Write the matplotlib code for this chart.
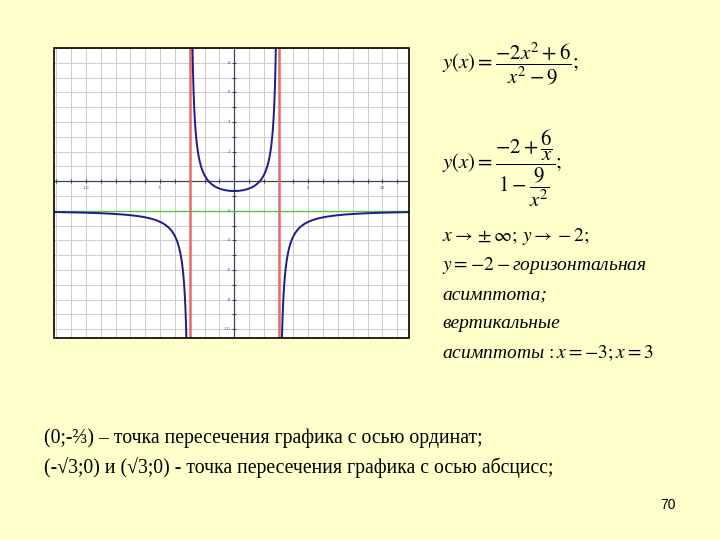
import matplotlib
matplotlib.use('Agg')
import matplotlib.pyplot as plt
import numpy as np
from matplotlib.patches import Rectangle

plt.rcParams['mathtext.fontset'] = 'stix'

# y(x) = (a*x^2 + b) / (x^2 + c), as written on the slide
a_num = -2
b_num = 6
c_den = -9
asymptotes_x = [-3, 3]
asymptote_y = -2

x_labels = [-10, -5, 5, 10]
y_labels = [8, 6, 4, 2, -2, -4, -6, -8, -10]

right_lines = [
    r'$x\rightarrow\pm\infty;\,y\rightarrow-2;$',
    r'$y=-2-$горизонтальная',
    'асимптота;',
    'вертикальные',
    r'асимптоты$\,:x=-3;x=3$',
]
bottom_lines = [
    '(0;-⅔) – точка пересечения графика с осью ординат;',
    '(-√3;0) и (√3;0) - точка пересечения графика с осью абсцисс;',
]
page_no = '70'

bg = '#FFFFCC'
fig = plt.figure(figsize=(7.2, 5.4), dpi=100, facecolor=bg)

ax = fig.add_axes([54/720, 1-338/540, 355/720, 290/540])
ax.set_facecolor('white')
ax.set_xlim(-12.16, 11.8)
ax.set_ylim(-10.6, 9.0)

# grid every unit
for gx in range(-12, 12):
    ax.axvline(gx, color='#cccccc', lw=0.7, zorder=0)
for gy in range(-10, 10):
    ax.axhline(gy, color='#cccccc', lw=0.7, zorder=0)

ax.axhline(0, color='#404060', lw=0.9, zorder=1)
ax.axvline(0, color='#404060', lw=0.9, zorder=1)
tx = np.arange(-12, 12)
tx = tx[tx != 0]
ax.plot(tx, np.zeros_like(tx), '|', color='#404060', ms=3, mew=0.8, zorder=1)
ty = np.arange(-10, 9)
ty = ty[ty != 0]
ax.plot(np.zeros_like(ty), ty, '_', color='#404060', ms=3, mew=0.8, zorder=1)

for v in x_labels:
    ax.text(v, -0.35, str(v), fontsize=3, color='#555555', ha='center', va='top')
for v in y_labels:
    ax.text(-0.25, v, str(v), fontsize=3, color='#555555', ha='right', va='center')

# curve
def f(x):
    return (a_num * x**2 + b_num) / (x**2 + c_den)

for lo, hi in [(-12.3, -3.01), (-2.995, 2.995), (3.01, 12.3)]:
    xs = np.linspace(lo, hi, 1500)
    ax.plot(xs, f(xs), color='#1c1c8c', lw=1.4, zorder=3)

ax.axhline(asymptote_y, color='#44cc44', lw=1.0, zorder=2)
for xa in asymptotes_x:
    ax.axvline(xa, color='#e86868', lw=1.8, zorder=2)

ax.set_xticks([])
ax.set_yticks([])
for s in ax.spines.values():
    s.set_visible(False)
ax.add_patch(Rectangle((0, 0), 1, 1, transform=ax.transAxes, fill=False,
                       ec='black', lw=1.2, clip_on=False, zorder=5))

# formulas on the right
fs = 14
fig.text(442/720, 1-64/540, r'$y(x)=\dfrac{-2x^2+6}{x^2-9};$',
         fontsize=15, ha='left', va='center')
fig.text(442/720, 1-168/540, r'$y(x)=\dfrac{-2+\dfrac{6}{x}}{1-\dfrac{9}{x^2}};$',
         fontsize=15, ha='left', va='center')
for i, line in enumerate(right_lines):
    fig.text(442/720, 1-(236 + i*29.3)/540, line, fontsize=fs, ha='left', va='center',
             family='Liberation Serif', style='italic')

for i, line in enumerate(bottom_lines):
    fig.text(44/720, 1-(438 + i*30)/540, line, fontsize=14.2, ha='left', va='center',
             family='Liberation Serif')

fig.text(668/720, 1-505/540, page_no, fontsize=10, ha='center', va='center',
         family='Liberation Sans')

plt.savefig('out.png', dpi=100, facecolor=bg)
